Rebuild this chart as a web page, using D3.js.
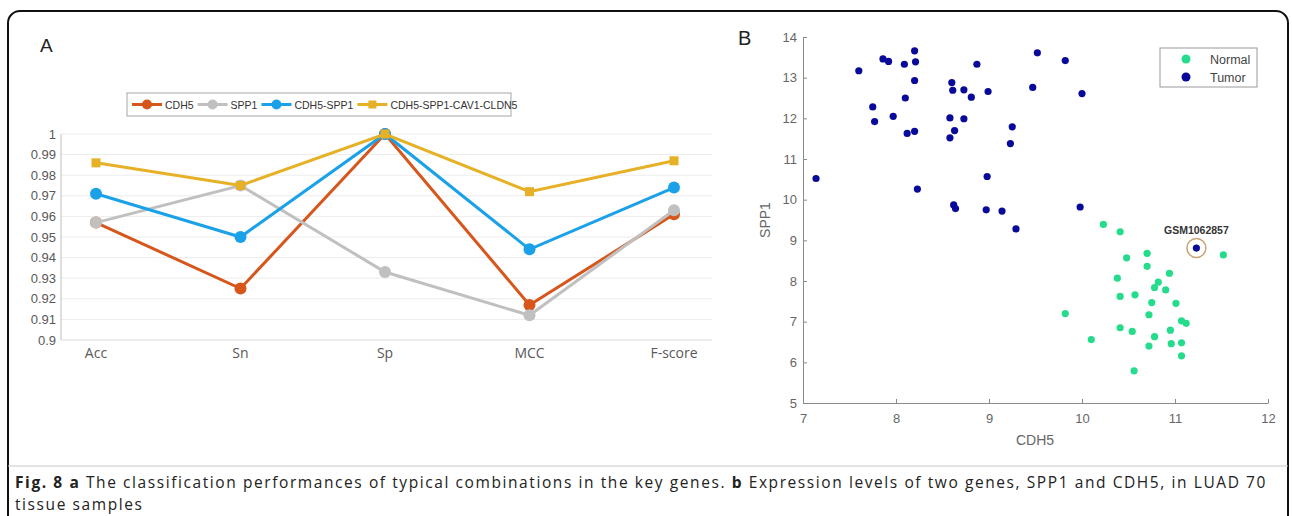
<!DOCTYPE html>
<html>
<head>
<meta charset="utf-8">
<script src="https://cdn.jsdelivr.net/npm/d3@7"></script>
<style>
  html, body { margin: 0; padding: 0; background: #fff; }
  svg { display: block; }
</style>
</head>
<body>
<div class="vis"></div>
<script>
(function() {
  'use strict';

  // panel A: classification performance
  var categories = ["Acc", "Sn", "Sp", "MCC", "F-score"];
  var seriesNames = ["CDH5", "SPP1", "CDH5-SPP1", "CDH5-SPP1-CAV1-CLDN5"];
  var cdh5 = [0.957, 0.925, 1.0, 0.917, 0.961];
  var spp1 = [0.957, 0.975, 0.933, 0.912, 0.963];
  var cdh5Spp1 = [0.971, 0.950, 1.0, 0.944, 0.974];
  var fourGenes = [0.986, 0.975, 1.0, 0.972, 0.987];
  var yTicksA = [0.9, 0.91, 0.92, 0.93, 0.94, 0.95, 0.96, 0.97, 0.98, 0.99, 1];

  // panel B: expression of CDH5 (x) vs SPP1 (y)
  var tumorX = [7.14, 7.60, 7.86, 7.92, 7.75, 7.77, 7.97, 8.09, 8.20, 8.21, 8.20, 8.10,
    8.12, 8.20, 8.23, 8.60, 8.61, 8.73, 8.81, 8.87, 8.99, 8.58, 8.73, 8.63, 8.58, 9.25,
    9.23, 8.98, 8.62, 8.64, 8.97, 9.14, 9.52, 9.82, 9.47, 10.00, 9.98, 9.29, 11.23];
  var tumorY = [10.52, 13.17, 13.46, 13.40, 12.28, 11.92, 12.05, 13.33, 13.66, 13.39, 12.93, 12.50,
    11.63, 11.68, 10.26, 12.88, 12.69, 12.70, 12.52, 13.33, 12.66, 12.01, 11.99, 11.70, 11.52, 11.79,
    11.38, 10.57, 9.87, 9.78, 9.75, 9.72, 13.61, 13.42, 12.76, 12.61, 9.82, 9.28, 8.81];
  var normalX = [10.23, 10.41, 10.48, 10.70, 10.70, 10.94, 11.52, 10.38, 10.82, 10.78, 10.90,
    10.41, 10.57, 10.75, 11.01, 9.82, 10.72, 11.07, 11.12, 10.41, 10.54, 10.95, 10.78, 10.10,
    10.72, 10.96, 11.07, 11.07, 10.56];
  var normalY = [9.39, 9.21, 8.57, 8.68, 8.36, 8.19, 8.64, 8.07, 7.97, 7.84, 7.78,
    7.62, 7.66, 7.47, 7.45, 7.20, 7.17, 7.02, 6.96, 6.85, 6.76, 6.79, 6.63, 6.56,
    6.40, 6.46, 6.48, 6.16, 5.79];
  var xTicksB = [7, 8, 9, 10, 11, 12];
  var yTicksB = [5, 6, 7, 8, 9, 10, 11, 12, 13, 14];
  var highlight = {name: "GSM1062857", x: 11.23, y: 8.81};

  var colors = ["#D6561C", "#C0C0C0", "#1BA1E8", "#E6B126"];
  var allSeries = [cdh5, spp1, cdh5Spp1, fourGenes];

  var W = 1292, H = 516;
  var svg = d3.select('.vis').append('svg')
    .attr('width', W)
    .attr('height', H);

  // figure frame
  svg.append('rect')
    .attr('x', 8).attr('y', 11)
    .attr('width', 1280).attr('height', 560)
    .attr('rx', 12)
    .attr('fill', 'none')
    .attr('stroke', '#111')
    .attr('stroke-width', 2);

  // ---------- panel A ----------
  var gA = svg.append('g');
  var xA = d3.scalePoint().domain(categories).range([96, 674]);
  var yA = d3.scaleLinear().domain([0.9, 1]).range([340, 134]);

  gA.append('text')
    .attr('x', 40).attr('y', 52)
    .style('font', '19px "Liberation Sans", Arial, sans-serif')
    .attr('fill', '#222')
    .text('A');

  gA.selectAll('.grid')
    .data(yTicksA)
    .enter().append('line')
      .attr('class', 'grid')
      .attr('x1', 61).attr('x2', 712)
      .attr('y1', function(d) { return yA(d); })
      .attr('y2', function(d) { return yA(d); })
      .attr('stroke', function(d) { return d === 0.9 ? '#d9d9d9' : '#ececec'; })
      .attr('stroke-width', 1);

  gA.append('line')
    .attr('x1', 61).attr('x2', 61)
    .attr('y1', yA(1)).attr('y2', yA(0.9))
    .attr('stroke', '#bfbfbf');

  gA.selectAll('.ytick')
    .data(yTicksA)
    .enter().append('text')
      .attr('class', 'ytick')
      .attr('x', 56)
      .attr('y', function(d) { return yA(d) + 4.5; })
      .attr('text-anchor', 'end')
      .style('font', '13px "Liberation Sans", Arial, sans-serif')
      .attr('fill', '#595959')
      .text(function(d) { return String(+d.toFixed(2)); });

  gA.selectAll('.xlab')
    .data(categories)
    .enter().append('text')
      .attr('class', 'xlab')
      .attr('x', function(d) { return xA(d); })
      .attr('y', 358)
      .attr('text-anchor', 'middle')
      .style('font', '14px "Open Sans", sans-serif')
      .attr('fill', '#595959')
      .text(function(d) { return d; });

  var line = d3.line()
    .x(function(d, i) { return xA(categories[i]); })
    .y(function(d) { return yA(d); });

  allSeries.forEach(function(vals, s) {
    var g = gA.append('g');
    g.append('path')
      .datum(vals)
      .attr('d', line)
      .attr('fill', 'none')
      .attr('stroke', colors[s])
      .attr('stroke-width', 3);
    if (s === 3) {
      g.selectAll('rect')
        .data(vals)
        .enter().append('rect')
          .attr('x', function(d, i) { return xA(categories[i]) - 4.5; })
          .attr('y', function(d) { return yA(d) - 4.5; })
          .attr('width', 9).attr('height', 9)
          .attr('fill', colors[s]);
    } else {
      g.selectAll('circle')
        .data(vals)
        .enter().append('circle')
          .attr('cx', function(d, i) { return xA(categories[i]); })
          .attr('cy', function(d) { return yA(d); })
          .attr('r', 6)
          .attr('fill', colors[s]);
    }
  });

  // legend A: items laid out from their measured text widths
  var legA = gA.append('g');
  var boxX = 127, boxW = 384, cyL = 104.5, lineLen = 30, pad = 3;
  legA.append('rect')
    .attr('x', boxX).attr('y', 93)
    .attr('width', boxW).attr('height', 23)
    .attr('fill', '#fff')
    .attr('stroke', '#a6a6a6');
  var legItems = seriesNames.map(function(name, s) {
    var g = legA.append('g');
    g.append('line')
      .attr('x1', 0).attr('x2', lineLen)
      .attr('y1', cyL).attr('y2', cyL)
      .attr('stroke', colors[s]).attr('stroke-width', 3);
    if (s === 3) {
      g.append('rect')
        .attr('x', lineLen / 2 - 4).attr('y', cyL - 4)
        .attr('width', 8).attr('height', 8)
        .attr('fill', colors[s]);
    } else {
      g.append('circle')
        .attr('cx', lineLen / 2).attr('cy', cyL).attr('r', 5)
        .attr('fill', colors[s]);
    }
    var t = g.append('text')
      .attr('x', lineLen + pad).attr('y', cyL + 4)
      .style('font', '10.5px "Liberation Sans", Arial, sans-serif')
      .attr('fill', '#333')
      .text(name);
    return {g: g, w: lineLen + pad + t.node().getComputedTextLength()};
  });
  var usedW = d3.sum(legItems, function(d) { return d.w; });
  var gap = Math.max(4, (boxW - 10 - usedW) / (legItems.length - 1));
  var cx = boxX + 5;
  legItems.forEach(function(it) {
    it.g.attr('transform', 'translate(' + cx + ',0)');
    cx += it.w + gap;
  });

  // ---------- panel B ----------
  var gB = svg.append('g');
  var xB = d3.scaleLinear().domain([7, 12]).range([803, 1268]);
  var yB = d3.scaleLinear().domain([5, 14]).range([403, 37]);

  gB.append('text')
    .attr('x', 738).attr('y', 45)
    .style('font', '20px "Liberation Sans", Arial, sans-serif')
    .attr('fill', '#222')
    .text('B');

  var axB = gB.append('g')
    .attr('transform', 'translate(0,' + yB(5) + ')')
    .call(d3.axisBottom(xB).tickValues(xTicksB).tickFormat(d3.format('d'))
      .tickSize(-4).tickSizeOuter(0).tickPadding(11));
  var ayB = gB.append('g')
    .attr('transform', 'translate(' + xB(7) + ',0)')
    .call(d3.axisLeft(yB).tickValues(yTicksB).tickFormat(d3.format('d'))
      .tickSize(-4).tickSizeOuter(0).tickPadding(6));
  [axB, ayB].forEach(function(a) {
    a.select('.domain').attr('stroke', '#8a8a8a');
    a.selectAll('.tick line').attr('stroke', '#8a8a8a');
    a.selectAll('.tick text')
      .attr('fill', '#666')
      .style('font', '13px "Liberation Sans", Arial, sans-serif');
  });

  gB.append('text')
    .attr('x', 1035).attr('y', 445)
    .attr('text-anchor', 'middle')
    .style('font', '14px "Liberation Sans", Arial, sans-serif')
    .attr('fill', '#666')
    .text('CDH5');
  gB.append('text')
    .attr('transform', 'translate(770,220) rotate(-90)')
    .attr('text-anchor', 'middle')
    .style('font', '14px "Liberation Sans", Arial, sans-serif')
    .attr('fill', '#666')
    .text('SPP1');

  gB.selectAll('.normal')
    .data(normalX)
    .enter().append('circle')
      .attr('class', 'normal')
      .attr('cx', function(d) { return xB(d); })
      .attr('cy', function(d, i) { return yB(normalY[i]); })
      .attr('r', 3.6)
      .attr('fill', '#25DC8C');

  gB.selectAll('.tumor')
    .data(tumorX)
    .enter().append('circle')
      .attr('class', 'tumor')
      .attr('cx', function(d) { return xB(d); })
      .attr('cy', function(d, i) { return yB(tumorY[i]); })
      .attr('r', 3.6)
      .attr('fill', '#0A0A9A');

  gB.append('circle')
    .attr('cx', xB(highlight.x)).attr('cy', yB(highlight.y))
    .attr('r', 9.5)
    .attr('fill', 'none')
    .attr('stroke', '#C8A474')
    .attr('stroke-width', 1.5);
  gB.append('text')
    .attr('x', xB(highlight.x)).attr('y', yB(highlight.y) - 14)
    .attr('text-anchor', 'middle')
    .style('font', 'bold 10.5px "Liberation Sans", Arial, sans-serif')
    .attr('fill', '#333')
    .text(highlight.name);

  // legend B
  var legB = gB.append('g');
  legB.append('rect')
    .attr('x', 1160).attr('y', 48)
    .attr('width', 97).attr('height', 39)
    .attr('fill', '#fff')
    .attr('stroke', '#9a9a9a');
  [['Normal', '#25DC8C'], ['Tumor', '#0A0A9A']].forEach(function(d, i) {
    var cy = 59 + i * 18;
    legB.append('circle')
      .attr('cx', 1186).attr('cy', cy).attr('r', 4.5)
      .attr('fill', d[1]);
    legB.append('text')
      .attr('x', 1210).attr('y', cy + 4.5)
      .style('font', '12.5px "Liberation Sans", Arial, sans-serif')
      .attr('fill', '#444')
      .text(d[0]);
  });

  // caption
  svg.append('line')
    .attr('x1', 8).attr('x2', 1288)
    .attr('y1', 466).attr('y2', 466)
    .attr('stroke', '#c8c8c8');

  var capFont = '15.5px "Open Sans", sans-serif';
  var cap = svg.append('text')
    .attr('x', 15).attr('y', 488)
    .style('font', capFont)
    .attr('fill', '#222');
  cap.append('tspan').style('font-weight', 'bold').text('Fig. 8 a');
  cap.append('tspan').text(' The classification performances of typical combinations in the key genes. ');
  cap.append('tspan').style('font-weight', 'bold').text('b');
  cap.append('tspan').text(' Expression levels of two genes, SPP1 and CDH5, in LUAD 70');
  // spread the first caption line to the reference width
  var nChars = cap.text().length;
  var spacing = (1252 - cap.node().getComputedTextLength()) / nChars;
  cap.style('letter-spacing', spacing + 'px');
  svg.append('text')
    .attr('x', 15).attr('y', 510)
    .style('font', capFont)
    .style('letter-spacing', spacing + 'px')
    .attr('fill', '#222')
    .text('tissue samples');
}());
</script>
</body>
</html>
